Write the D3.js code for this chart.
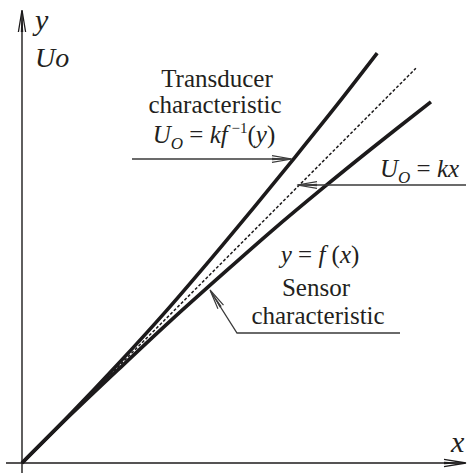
<!DOCTYPE html>
<html><head><meta charset="utf-8"><script src="https://cdn.jsdelivr.net/npm/d3@7"></script></head>
<body style="margin:0">
<svg id="chart" width="467" height="473" style="font-family: 'Nimbus Roman', 'Liberation Serif', 'FreeSerif', Tinos, serif;"></svg>
<script>
// ---- data (axis units, 0..100) ----
const sensorX = [0, 11.6, 23.3, 34.9, 46.5, 58.1, 69.8, 81.4, 95.1];
const sensorY = [0, 11.5, 22.6, 33.4, 43.8, 54.0, 63.8, 73.2, 84.0];
const transX  = [0, 11.5, 22.6, 33.4, 43.8, 54.0, 63.8, 73.2, 82.6];
const transY  = [0, 11.6, 23.3, 35.2, 47.3, 59.5, 71.5, 83.2, 95.3];
const idealX  = [0, 91.6];
const idealY  = [0, 91.8];
const axisLabels = ["x", "y", "Uo"];

const svg = d3.select("#chart");
const x = d3.scaleLinear().domain([0, 100]).range([22, 452]);
const y = d3.scaleLinear().domain([0, 100]).range([463, 33]);

const ink = "#1c1a1b";
const lead = "#3a3a3a";

function arrowHead(g, tipX, tipY, dirX, dirY, len, half, color, w) {
  const n = Math.hypot(dirX, dirY); const ux = dirX / n, uy = dirY / n;
  const px = -uy, py = ux;
  const bx = tipX - ux * len, by = tipY - uy * len;
  g.append("path")
    .attr("d", `M${bx + px * half},${by + py * half}L${tipX},${tipY}L${bx - px * half},${by - py * half}`)
    .attr("fill", "none").attr("stroke", color).attr("stroke-width", w);
  g.append("path")
    .attr("d", `M${bx + px * half * 0.35},${by + py * half * 0.35}L${tipX},${tipY}L${bx - px * half * 0.35},${by - py * half * 0.35}Z`)
    .attr("fill", color).attr("stroke", "none");
}
function txt(g, xx, yy, size, anchor) {
  return g.append("text").attr("x", xx).attr("y", yy).attr("font-size", size)
    .attr("fill", "#231f20").attr("text-anchor", anchor || "start");
}

// ---- axes ----
const axes = svg.append("g");
axes.append("line").attr("x1", x(0)).attr("x2", x(0)).attr("y1", 473).attr("y2", 11)
  .attr("stroke", ink).attr("stroke-width", 1.4);
axes.append("line").attr("x1", 6).attr("x2", 465).attr("y1", y(0)).attr("y2", y(0))
  .attr("stroke", ink).attr("stroke-width", 1.4);
arrowHead(axes, x(0), 10, 0, -1, 22, 3.6, ink, 1.3);
arrowHead(axes, 466, y(0), 1, 0, 22, 3.6, ink, 1.3);

txt(axes, 35, 30, 30).attr("font-style", "italic").text(axisLabels[1]);
txt(axes, 35, 67, 28).attr("font-style", "italic").text(axisLabels[2]);
txt(axes, 451, 452, 30).attr("font-style", "italic").text(axisLabels[0]);

// ---- curves ----
const line = d3.line().x(d => x(d[0])).y(d => y(d[1])).curve(d3.curveCatmullRom.alpha(0.5));
const sensor = sensorX.map((v, i) => [v, sensorY[i]]);
const trans = transX.map((v, i) => [v, transY[i]]);
const ideal = idealX.map((v, i) => [v, idealY[i]]);

svg.append("path").attr("d", line(ideal)).attr("fill", "none").attr("stroke", ink)
  .attr("stroke-width", 1.5).attr("stroke-dasharray", "3,2");
svg.append("path").attr("d", line(sensor)).attr("fill", "none").attr("stroke", ink).attr("stroke-width", 3.6);
svg.append("path").attr("d", line(trans)).attr("fill", "none").attr("stroke", ink).attr("stroke-width", 3.6);

// ---- annotations ----
const ann = svg.append("g");
// Transducer
txt(ann, 217, 87, 25, "middle").text("Transducer");
txt(ann, 215, 113, 25, "middle").text("characteristic");
const t1 = txt(ann, 214, 143, 25, "middle");
t1.append("tspan").attr("font-style", "italic").text("U");
t1.append("tspan").attr("font-style", "italic").attr("font-size", 17).attr("dy", 6).text("O");
t1.append("tspan").attr("dy", -6).text(" = ");
t1.append("tspan").attr("font-style", "italic").text("kf");
t1.append("tspan").attr("font-size", 15).attr("dy", -10).text(" \u22121");
t1.append("tspan").attr("dy", 10).text("(");
t1.append("tspan").attr("font-style", "italic").text("y");
t1.append("tspan").text(")");
ann.append("line").attr("x1", 132).attr("x2", 291).attr("y1", 159).attr("y2", 159).attr("stroke", lead).attr("stroke-width", 1.3);
arrowHead(ann, 292, 159, 1, 0, 20, 3.3, lead, 1.2);

// Ideal
const t2 = txt(ann, 380, 177, 25);
t2.append("tspan").attr("font-style", "italic").text("U");
t2.append("tspan").attr("font-style", "italic").attr("font-size", 17).attr("dy", 6).text("O");
t2.append("tspan").attr("dy", -6).text(" = ");
t2.append("tspan").attr("font-style", "italic").text("kx");
ann.append("line").attr("x1", 298).attr("x2", 466).attr("y1", 185).attr("y2", 185).attr("stroke", lead).attr("stroke-width", 1.3);
arrowHead(ann, 297, 185, -1, 0, 20, 3.3, lead, 1.2);

// Sensor
const t3 = txt(ann, 320, 263, 25, "middle");
t3.append("tspan").attr("font-style", "italic").text("y");
t3.append("tspan").text(" = ");
t3.append("tspan").attr("font-style", "italic").text("f");
t3.append("tspan").text(" (");
t3.append("tspan").attr("font-style", "italic").text("x");
t3.append("tspan").text(")");
txt(ann, 316, 296, 25, "middle").text("Sensor");
txt(ann, 318, 324, 25, "middle").text("characteristic");
ann.append("path").attr("d", "M400,333L237,333L211,292").attr("fill", "none").attr("stroke", lead).attr("stroke-width", 1.3);
arrowHead(ann, 210, 290, 211 - 237, 292 - 333, 20, 3.3, lead, 1.2);
</script>
</body>
</html>
